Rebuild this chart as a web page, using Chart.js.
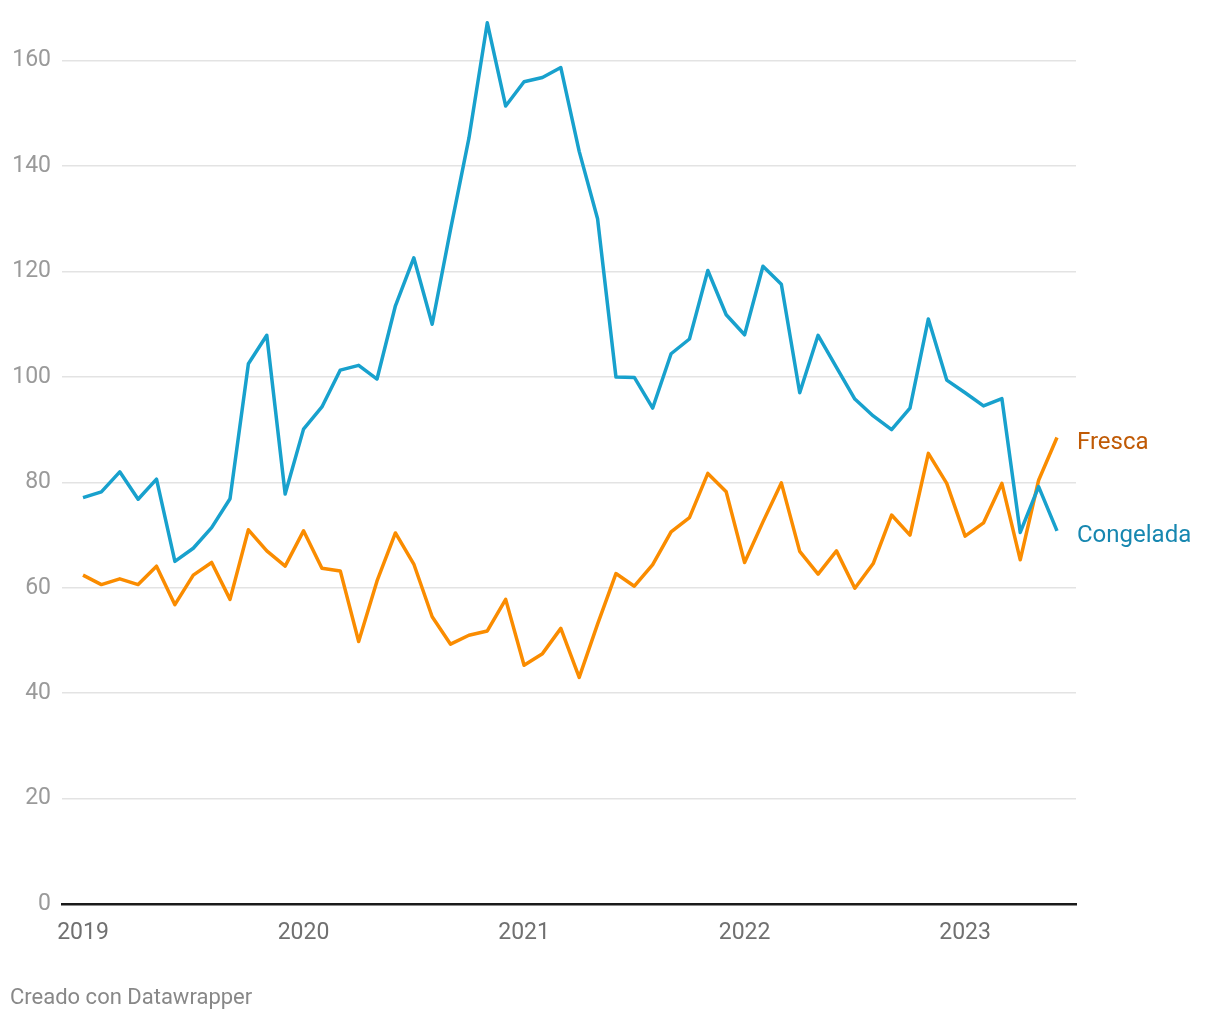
<!DOCTYPE html>
<html>
<head>
<meta charset="utf-8">
<script src="https://cdn.jsdelivr.net/npm/chart.js@4.4.0/dist/chart.umd.min.js"></script>
<style>
  body { margin: 0; background: #fff; }
  #wrap { position: relative; width: 1220px; height: 1020px; }
  #nota { position: absolute; left: 10px; top: 984px; font: 22px Roboto, sans-serif; color: #888; }
</style>
</head>
<body>
<div id="wrap">
  <canvas id="grafico" width="1220" height="1020"></canvas>
  <div id="nota">Creado con Datawrapper</div>
</div>
<script>
// años en el eje x (cada uno marca enero)
const anios = ["2019", "2020", "2021", "2022", "2023"];
const ticksY = [0, 20, 40, 60, 80, 100, 120, 140, 160];

// valores mensuales, ene 2019 - jun 2023
const congelada = [
    77.1, 78.2, 82.0, 76.8, 80.6, 65.0, 67.5, 71.4, 76.9, 102.5, 107.9, 77.8,
    90.1, 94.3, 101.3, 102.2, 99.6, 113.5, 122.6, 110.0, 128.0, 145.3, 167.2, 151.4,
    156.0, 156.8, 158.7, 142.8, 130.0, 100.0, 99.9, 94.1, 104.4, 107.2, 120.2, 111.8,
    108.0, 121.0, 117.6, 97.0, 107.9, 101.8, 95.8, 92.6, 90.0, 94.1, 111.0, 99.4,
    97.0, 94.5, 95.9, 70.5, 79.2, 70.8
];
const fresca = [
    62.4, 60.6, 61.7, 60.6, 64.1, 56.8, 62.4, 64.8, 57.8, 71.0, 67.0, 64.1,
    70.8, 63.7, 63.2, 49.8, 61.3, 70.4, 64.5, 54.5, 49.3, 51.0, 51.8, 57.8,
    45.3, 47.5, 52.3, 43.0, 53.1, 62.7, 60.3, 64.4, 70.6, 73.3, 81.7, 78.2,
    64.8, 72.5, 79.9, 66.9, 62.6, 67.0, 59.9, 64.6, 73.8, 70.0, 85.5, 79.8,
    69.8, 72.3, 79.8, 65.3, 80.4, 88.5
];

const colorCongelada = "#18a1cd";
const colorFresca = "#fa8c00";

function aPuntos(serie) {
    return serie.map((v, i) => ({ x: i, y: v }));
}

// etiquetas al final de cada linea
const etiquetasFinales = {
    id: "etiquetasFinales",
    afterDatasetsDraw(chart) {
        const ctx = chart.ctx;
        const area = chart.chartArea;
        ctx.save();
        ctx.font = "24px Roboto, sans-serif";
        ctx.textAlign = "left";
        ctx.textBaseline = "middle";
        chart.data.datasets.forEach((ds, i) => {
            const meta = chart.getDatasetMeta(i);
            const ultimo = meta.data[meta.data.length - 1];
            ctx.fillStyle = ds.etiquetaColor;
            ctx.fillText(ds.label, area.right + 1, ultimo.y + 5);
        });
        ctx.restore();
    }
};

new Chart(document.getElementById("grafico"), {
    type: "line",
    data: {
        datasets: [
            {
                label: "Congelada",
                data: aPuntos(congelada),
                borderColor: colorCongelada,
                etiquetaColor: "#1787b0",
                borderWidth: 3.5,
                pointRadius: 0,
                borderJoinStyle: "round",
                tension: 0
            },
            {
                label: "Fresca",
                data: aPuntos(fresca),
                borderColor: colorFresca,
                etiquetaColor: "#c05a05",
                borderWidth: 3.5,
                pointRadius: 0,
                borderJoinStyle: "round",
                tension: 0
            }
        ]
    },
    options: {
        responsive: false,
        animation: false,
        layout: { padding: { top: 8, right: 144, bottom: 0, left: 0 } },
        plugins: {
            legend: { display: false },
            tooltip: { enabled: false }
        },
        scales: {
            x: {
                type: "linear",
                min: -1.143,
                max: 54.034,
                afterBuildTicks: axis => { axis.ticks = anios.map((a, i) => ({ value: i * 12 })); },
                afterFit: axis => { axis.height = 116; axis.paddingLeft = 0; axis.paddingRight = 0; },
                grid: { display: false, drawTicks: false },
                border: { display: true, color: "#1a1a1a", width: 2.5 },
                ticks: {
                    padding: 15,
                    color: "#707070",
                    font: { family: "Roboto", size: 23 },
                    maxRotation: 0,
                    callback: v => anios[v / 12]
                }
            },
            y: {
                min: 0,
                max: 170,
                afterBuildTicks: axis => { axis.ticks = ticksY.map(v => ({ value: v })); },
                afterFit: axis => { axis.width = 62; axis.paddingTop = 0; axis.paddingBottom = 0; },
                grid: { color: "#e3e3e3", lineWidth: 1.5, drawTicks: false },
                border: { display: false },
                ticks: {
                    padding: 11,
                    color: "#9a9a9a",
                    font: { family: "Roboto", size: 23 }
                }
            }
        }
    },
    plugins: [etiquetasFinales]
});
</script>
</body>
</html>
